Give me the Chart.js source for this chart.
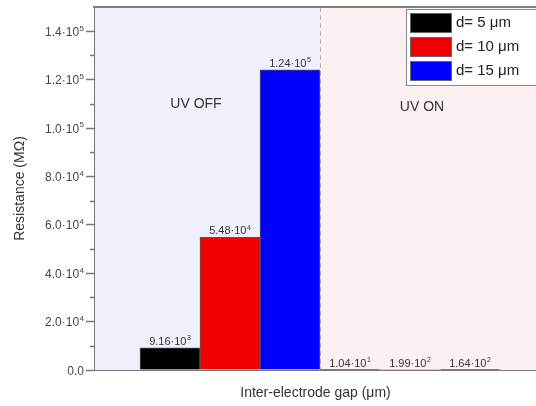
<!DOCTYPE html>
<html>
<head>
<meta charset="utf-8">
<script src="https://cdn.jsdelivr.net/npm/chart.js@4/dist/chart.umd.min.js"></script>
<style>
  html, body { margin: 0; padding: 0; background: #fff; }
  #wrap { width: 536px; height: 406px; position: relative; overflow: hidden; }
</style>
</head>
<body>
<div id="wrap"><canvas id="c" width="536" height="406"></canvas></div>
<script>
// Conditions (group positions along the x axis) and their captions
const conditions = ['UV OFF', 'UV ON'];
const conditionX = [0, 1];

// Resistance (MΩ) for each electrode gap, UV OFF then UV ON
const seriesNames = ['d= 5 μm', 'd= 10 μm', 'd= 15 μm'];
const gap5 = [9.16e3, 1.04e1];
const gap10 = [5.48e4, 1.99e2];
const gap15 = [1.24e5, 1.64e2];

// Value labels printed above each bar
const labels5 = ['9.16·10³', '1.04·10¹'];
const labels10 = ['5.48·10⁴', '1.99·10²'];
const labels15 = ['1.24·10⁵', '1.64·10²'];

// Y axis tick labels
const yTickValues = [0, 2e4, 4e4, 6e4, 8e4, 1e5, 1.2e5, 1.4e5];
const yTickLabels = ['0.0', '2.0·10⁴', '4.0·10⁴', '6.0·10⁴', '8.0·10⁴', '1.0·10⁵', '1.2·10⁵', '1.4·10⁵'];

const FONT = '"Liberation Sans", Arial, sans-serif';
const barColors = ['#000000', '#f00000', '#0000ff'];
const values = [gap5, gap10, gap15];
const valueLabels = [labels5, labels10, labels15];

const SUP = '⁰¹²³⁴⁵⁶⁷⁸⁹';

// Draws "a·10ⁿ" with the exponent raised and smaller; returns nothing.
function drawPower(ctx, text, x, y, size, align) {
  let k = 0;
  while (k < text.length && SUP.indexOf(text[k]) < 0) k++;
  const base = text.slice(0, k);
  const exp = text.slice(k).split('').map(c => String(SUP.indexOf(c))).join('');
  const expSize = Math.round(size * 0.68);
  ctx.font = size + 'px ' + FONT;
  const wb = ctx.measureText(base).width;
  ctx.font = expSize + 'px ' + FONT;
  const we = exp ? ctx.measureText(exp).width + 0.5 : 0;
  const total = wb + we;
  let x0 = align === 'right' ? x - total : align === 'center' ? x - total / 2 : x;
  ctx.textAlign = 'left';
  ctx.textBaseline = 'alphabetic';
  ctx.font = size + 'px ' + FONT;
  ctx.fillText(base, x0, y);
  if (exp) {
    ctx.font = expSize + 'px ' + FONT;
    ctx.fillText(exp, x0 + wb + 0.5, y - size * 0.42);
  }
}

const datasets = seriesNames.map((name, i) => ({
  label: name,
  data: conditionX.map((x, j) => ({ x: x, y: values[i][j] })),
  valueLabels: valueLabels[i],
  backgroundColor: barColors[i],
  borderColor: '#555555',
  borderWidth: 1,
  categoryPercentage: 1.0,
  barPercentage: 1.0
}));

// Shaded UV OFF / UV ON halves, dashed divider, frame, labels and legend
const panels = {
  id: 'panels',
  beforeDatasetsDraw(chart) {
    const { ctx, chartArea: a, scales: { x } } = chart;
    const mid = x.getPixelForValue(0.5);
    ctx.save();
    ctx.fillStyle = '#f0f0fc';
    ctx.fillRect(a.left, a.top, mid - a.left, a.bottom - a.top);
    ctx.fillStyle = '#fdf0f0';
    ctx.fillRect(mid, a.top, a.right - mid, a.bottom - a.top);
    ctx.strokeStyle = '#b0b0b8';
    ctx.lineWidth = 1;
    ctx.setLineDash([5, 3]);
    ctx.beginPath();
    ctx.moveTo(Math.round(mid) + 0.5, a.top);
    ctx.lineTo(Math.round(mid) + 0.5, a.bottom);
    ctx.stroke();
    ctx.setLineDash([]);
    ctx.strokeStyle = '#808080';
    ctx.lineWidth = 2;
    ctx.beginPath();
    ctx.moveTo(a.left - 2, a.top);
    ctx.lineTo(a.right, a.top);
    ctx.stroke();
    // condition captions
    ctx.fillStyle = '#333333';
    ctx.font = '14px ' + FONT;
    ctx.textAlign = 'center';
    ctx.textBaseline = 'middle';
    const y = chart.scales.y;
    ctx.fillText(conditions[0], x.getPixelForValue(conditionX[0]) - 34, y.getPixelForValue(1.1e5));
    ctx.fillText(conditions[1], x.getPixelForValue(conditionX[1]) + 12, y.getPixelForValue(1.085e5));
    ctx.restore();
  },
  afterDatasetsDraw(chart) {
    const { ctx } = chart;
    ctx.save();
    ctx.fillStyle = '#333333';
    chart.data.datasets.forEach((ds, i) => {
      chart.getDatasetMeta(i).data.forEach((bar, j) => {
        drawPower(ctx, ds.valueLabels[j], bar.x, bar.y - 3, 11, 'center');
      });
    });
    // y tick labels and minor ticks
    const y = chart.scales.y;
    const left = chart.chartArea.left;
    ctx.fillStyle = '#454545';
    yTickValues.forEach((v, k) => {
      drawPower(ctx, yTickLabels[k], left - 11, y.getPixelForValue(v) + 4.5, 12, 'right');
    });
    ctx.strokeStyle = '#777777';
    ctx.lineWidth = 1.5;
    for (let v = 1e4; v < 1.5e5; v += 2e4) {
      const py = Math.round(y.getPixelForValue(v)) + 0.5;
      ctx.beginPath();
      ctx.moveTo(left - 5, py);
      ctx.lineTo(left, py);
      ctx.stroke();
    }
    ctx.restore();
  },
  afterDraw(chart) {
    // boxed legend in the upper right corner
    const { ctx, chartArea: a } = chart;
    ctx.save();
    const bx = 406, by = a.top + 2, rowH = 24;
    ctx.fillStyle = '#ffffff';
    ctx.fillRect(bx, by, 140, rowH * 3 + 4);
    ctx.strokeStyle = '#888888';
    ctx.lineWidth = 1;
    ctx.strokeRect(bx + 0.5, by + 0.5, 140, rowH * 3 + 4);
    ctx.font = '15px ' + FONT;
    ctx.textBaseline = 'middle';
    ctx.textAlign = 'left';
    chart.data.datasets.forEach((ds, i) => {
      const ry = by + 4 + i * rowH;
      ctx.fillStyle = ds.backgroundColor;
      ctx.fillRect(bx + 4, ry, 42, 20);
      ctx.strokeStyle = '#666666';
      ctx.strokeRect(bx + 4.5, ry + 0.5, 41, 19);
      ctx.fillStyle = '#222222';
      ctx.fillText(ds.label, bx + 50, ry + 10);
    });
    ctx.restore();
  }
};

new Chart(document.getElementById('c'), {
  type: 'bar',
  data: { datasets },
  options: {
    responsive: false,
    animation: false,
    layout: { padding: { top: 7, right: 0, left: 0, bottom: 0 } },
    plugins: { legend: { display: false }, tooltip: { enabled: false } },
    scales: {
      x: {
        type: 'linear',
        min: -0.75,
        max: 1.7,
        offset: false,
        bounds: 'data',
        grid: { display: false },
        border: { display: true, color: '#777777', width: 2 },
        ticks: { display: false },
        afterBuildTicks(scale) {
          scale.ticks = conditionX.map(v => ({ value: v }));
        },
        title: {
          display: true,
          text: 'Inter-electrode gap (μm)',
          color: '#333333',
          font: { family: FONT, size: 14 },
          padding: { top: 6, bottom: 4 }
        },
        afterFit(scale) { scale.height = 36; }
      },
      y: {
        min: 0,
        max: 1.5e5,
        ticks: { display: false },
        afterBuildTicks(scale) {
          scale.ticks = yTickValues.map(v => ({ value: v }));
        },
        grid: { drawOnChartArea: false, drawTicks: true, tickLength: 9, color: '#777777', tickWidth: 1.5 },
        border: { display: true, color: '#777777', width: 2 },
        title: {
          display: true,
          text: 'Resistance (MΩ)',
          color: '#333333',
          font: { family: FONT, size: 14 },
          padding: { top: 12, bottom: 4 }
        },
        afterFit(scale) { scale.width = 95; }
      }
    }
  },
  plugins: [panels]
});
</script>
</body>
</html>
